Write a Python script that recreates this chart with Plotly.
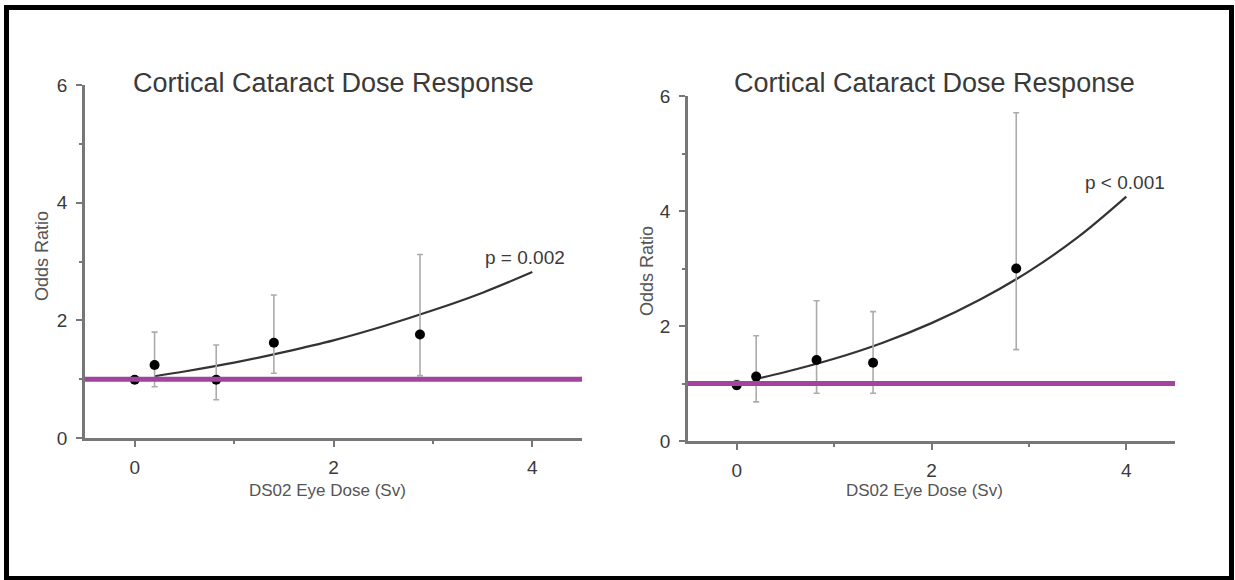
import plotly.graph_objects as go

# ---------------- data ----------------
dose = [0.0, 0.2, 0.82, 1.4, 2.87]

# left panel
or_left = [0.99, 1.24, 0.99, 1.62, 1.76]
ci_hi_left = [0.99, 1.80, 1.58, 2.43, 3.12]
ci_lo_left = [0.99, 0.87, 0.65, 1.10, 1.06]
fit_x_left = [0.2, 0.5, 1.0, 1.5, 2.0, 2.5, 3.0, 3.5, 4.0]
fit_y_left = [1.05, 1.13, 1.28, 1.46, 1.66, 1.90, 2.17, 2.47, 2.82]
p_left = "p = 0.002"

# right panel
or_right = [0.97, 1.12, 1.41, 1.36, 3.00]
ci_hi_right = [1.05, 1.83, 2.44, 2.25, 5.71]
ci_lo_right = [0.90, 0.68, 0.83, 0.83, 1.59]
fit_x_right = [0.2, 0.5, 1.0, 1.5, 2.0, 2.5, 3.0, 3.5, 4.0]
fit_y_right = [1.08, 1.20, 1.43, 1.71, 2.05, 2.46, 2.95, 3.54, 4.25]
p_right = "p < 0.001"

ref_x = [-0.5, 4.5]
ref_y = [1.0, 1.0]

title_text = "Cortical Cataract Dose Response"
x_title = "DS02 Eye Dose (Sv)"
y_title = "Odds Ratio"
x_ticks = [0, 2, 4]
y_ticks = [0, 2, 4, 6]

# ---------------- styles ----------------
W, H = 1235, 580
AXIS_COL = "#777777"
TXT_COL = "#3a3a3a"
LBL_COL = "#555555"
PURPLE = "#a044a0"
SANS = "Liberation Sans, Arial, sans-serif"

fig = go.Figure()


def add_panel(xa, ya, y, hi, lo, fx, fy):
    fig.add_trace(go.Scatter(x=fx, y=fy, mode="lines", xaxis=xa, yaxis=ya,
                             line=dict(color="#333333", width=2.2, shape="spline"),
                             hoverinfo="skip"))
    plus = [h - v for h, v in zip(hi, y)]
    minus = [v - l for v, l in zip(y, lo)]
    fig.add_trace(go.Scatter(x=dose, y=y, mode="markers", xaxis=xa, yaxis=ya,
                             marker=dict(color="black", size=10),
                             error_y=dict(type="data", symmetric=False, array=plus,
                                          arrayminus=minus, color="#ababab",
                                          thickness=1.6, width=3)))
    fig.add_trace(go.Scatter(x=ref_x, y=ref_y, mode="lines", xaxis=xa, yaxis=ya,
                             line=dict(color=PURPLE, width=5), hoverinfo="skip"))


add_panel("x", "y", or_left, ci_hi_left, ci_lo_left, fit_x_left, fit_y_left)
add_panel("x2", "y2", or_right, ci_hi_right, ci_lo_right, fit_x_right, fit_y_right)

common_x = dict(range=[-0.5, 4.5], tickvals=x_ticks, showline=True, linecolor=AXIS_COL,
                linewidth=2.5, ticks="outside", ticklen=6, tickwidth=2, tickcolor=AXIS_COL,
                showgrid=False, zeroline=False, automargin=False,
                tickfont=dict(family=SANS, size=19, color=TXT_COL),
                minor=dict(tickvals=[1, 3], ticks="outside", ticklen=3, tickwidth=2,
                           tickcolor=AXIS_COL, showgrid=False),
                ticklabelstandoff=4)
common_y = dict(range=[0, 6], tickvals=y_ticks, showline=True, linecolor=AXIS_COL,
                linewidth=2.5, ticks="outside", ticklen=6, tickwidth=2, tickcolor=AXIS_COL,
                showgrid=False, zeroline=False, automargin=False,
                tickfont=dict(family=SANS, size=19, color=TXT_COL),
                minor=dict(tickvals=[1, 3, 5], ticks="outside", ticklen=3, tickwidth=2,
                           tickcolor=AXIS_COL, showgrid=False),
                ticklabelstandoff=5)

fig.update_layout(
    width=W, height=H, autosize=False,
    margin=dict(l=0, r=0, t=0, b=0, pad=0, autoexpand=False),
    paper_bgcolor="white", plot_bgcolor="white", showlegend=False,
    xaxis=dict(domain=[85 / W, 582 / W], anchor="y", **common_x),
    yaxis=dict(domain=[1 - 438 / H, 1 - 85 / H], anchor="x", **common_y),
    xaxis2=dict(domain=[688 / W, 1175 / W], anchor="y2", **common_x),
    yaxis2=dict(domain=[1 - 441 / H, 1 - 96 / H], anchor="x2", **common_y),
)

ann = []
# titles
for cx in (333, 934):
    ann.append(dict(text=title_text, x=cx / W, y=1 - 82.5 / H, xref="paper", yref="paper",
                    xanchor="center", yanchor="middle", showarrow=False,
                    font=dict(family=SANS, size=27, color=TXT_COL)))
# y titles
for cx, cy in ((42, 256), (647, 271)):
    ann.append(dict(text=y_title, x=cx / W, y=1 - cy / H, xref="paper", yref="paper",
                    textangle=-90, xanchor="center", yanchor="middle", showarrow=False,
                    font=dict(family=SANS, size=18, color=LBL_COL)))
# x titles
for cx in (327, 924):
    ann.append(dict(text=x_title, x=cx / W, y=1 - 490 / H, xref="paper", yref="paper",
                    xanchor="center", yanchor="middle", showarrow=False,
                    font=dict(family=SANS, size=17, color=LBL_COL)))
# p-values
ann.append(dict(text=p_left, x=3.93, y=3.06, xref="x", yref="y", showarrow=False,
                xanchor="center", yanchor="middle",
                font=dict(family=SANS, size=19, color=TXT_COL)))
ann.append(dict(text=p_right, x=3.99, y=4.49, xref="x2", yref="y2", showarrow=False,
                xanchor="center", yanchor="middle",
                font=dict(family=SANS, size=19, color=TXT_COL)))
fig.update_layout(annotations=ann)

# outer black frame
fig.add_shape(type="rect", xref="paper", yref="paper",
              x0=6.5 / W, x1=1231.5 / W, y0=1.5 / H, y1=1 - 7.5 / H,
              line=dict(color="black", width=5), fillcolor="rgba(0,0,0,0)", layer="above")

fig.write_html("out.html")
